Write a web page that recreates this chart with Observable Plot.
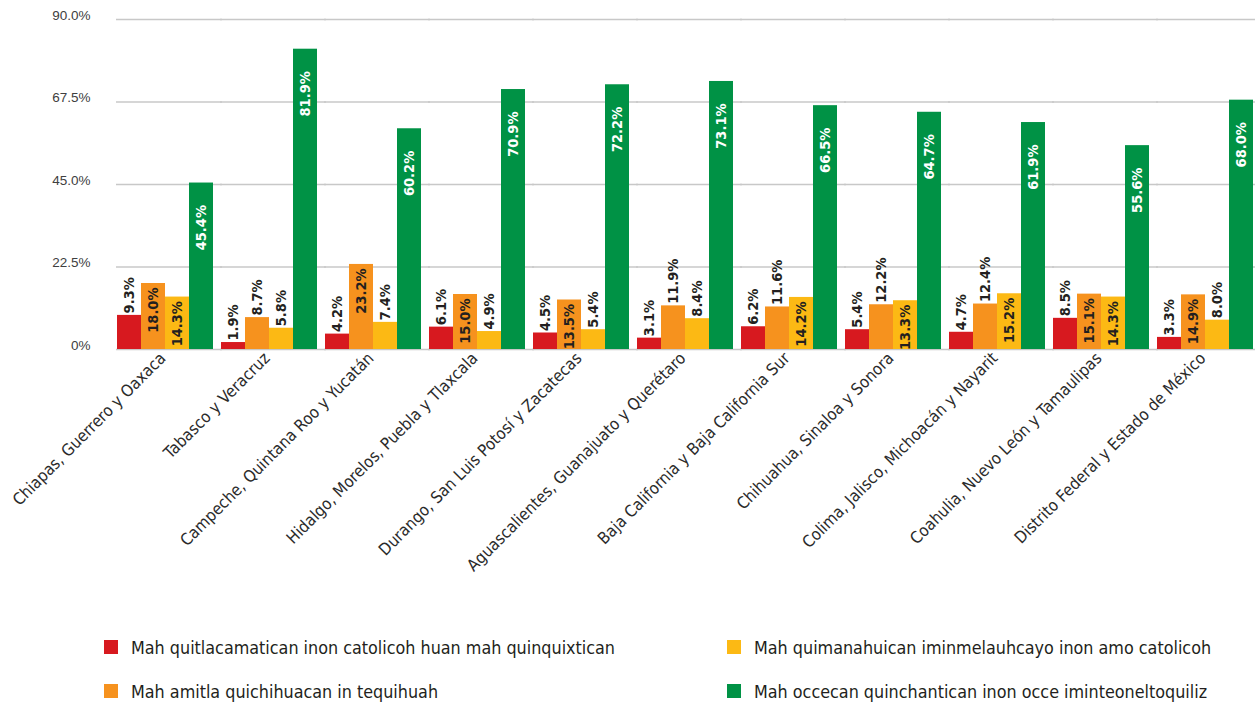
<!DOCTYPE html>
<html><head><meta charset="utf-8">
<script src="https://cdn.jsdelivr.net/npm/d3@7"></script>
<script src="https://cdn.jsdelivr.net/npm/@observablehq/plot@0.6"></script>
<style>
body{margin:0;background:#fff;}
#chart svg{display:block;}
#legend{position:relative;width:1255px;height:79px;font-family:"DejaVu Sans Condensed",sans-serif;font-size:17.8px;color:#231f20;}
.item{position:absolute;display:flex;align-items:center;height:20px;white-space:nowrap;}
.sw{width:14px;height:14px;margin-right:13px;flex:none;}
</style></head><body>
<div id="chart"></div>
<div id="legend"></div>
<script>
const regions = [
  "Chiapas, Guerrero y Oaxaca",
  "Tabasco y Veracruz",
  "Campeche, Quintana Roo y Yucatán",
  "Hidalgo, Morelos, Puebla y Tlaxcala",
  "Durango, San Luis Potosí y Zacatecas",
  "Aguascalientes, Guanajuato y Querétaro",
  "Baja California y Baja California Sur",
  "Chihuahua, Sinaloa y Sonora",
  "Colima, Jalisco, Michoacán y Nayarit",
  "Coahulia, Nuevo León y Tamaulipas",
  "Distrito Federal y Estado de México"
];
const seriesNames = [
  "Mah quitlacamatican inon catolicoh huan mah quinquixtican",
  "Mah amitla quichihuacan in tequihuah",
  "Mah quimanahuican iminmelauhcayo inon amo catolicoh",
  "Mah occecan quinchantican inon occe iminteoneltoquiliz"
];
const colors = ["#d7191f", "#f6921e", "#fcb914", "#009245"];
const redValues = [9.3, 1.9, 4.2, 6.1, 4.5, 3.1, 6.2, 5.4, 4.7, 8.5, 3.3];
const orangeValues = [18.0, 8.7, 23.2, 15.0, 13.5, 11.9, 11.6, 12.2, 12.4, 15.1, 14.9];
const yellowValues = [14.3, 5.8, 7.4, 4.9, 5.4, 8.4, 14.2, 13.3, 15.2, 14.3, 8.0];
const greenValues = [45.4, 81.9, 60.2, 70.9, 72.2, 73.1, 66.5, 64.7, 61.9, 55.6, 68.0];
const yTicks = [0, 22.5, 45, 67.5, 90];
const yTickLabels = ["0%", "22.5%", "45.0%", "67.5%", "90.0%"];

const seriesValues = [redValues, orangeValues, yellowValues, greenValues];
const data = [];
regions.forEach((r, i) => seriesValues.forEach((vals, s) => data.push({region: r, series: seriesNames[s], s, value: vals[i]})));
const fmt = d => d.value.toFixed(1) + "%";
const inside = d => d.s === 3 || d.value >= 13;
const labelFont = `"DejaVu Sans Condensed",sans-serif`;

const chart = Plot.plot({
  width: 1255, height: 625,
  marginLeft: 114, marginRight: 0, marginTop: 19, marginBottom: 276,
  style: {fontFamily: labelFont, background: "#fff", color: "#231f20"},
  fx: {domain: regions, paddingInner: 0.071, paddingOuter: 0, label: null, axis: null},
  x: {domain: seriesNames, padding: 0, axis: null},
  y: {domain: [0, 90], label: null},
  color: {domain: seriesNames, range: colors},
  marks: [
    Plot.ruleY(yTicks, {stroke: "#c8c8c8", strokeWidth: 1.5, insetRight: -9}),
    Plot.axisY({ticks: yTicks, tickFormat: (d, i) => yTickLabels[i], tickSize: 0, tickPadding: 26, dy: -4, fill: "#404040", fontSize: 13.5, fontFamily: "Liberation Sans, sans-serif", label: null}),
    Plot.barY(data, {fx: "region", x: "series", y: "value", fill: "series"}),
    Plot.text(data.filter(d => !inside(d)), {fx: "region", x: "series", y: "value", text: fmt, rotate: -90, textAnchor: "start", dy: -2, fill: "#231f20", fontSize: 14.5, fontWeight: "bold"}),
    Plot.text(data.filter(d => inside(d) && d.s !== 3), {fx: "region", x: "series", y: "value", text: fmt, rotate: -90, textAnchor: "end", dy: 4, fill: "#231f20", fontSize: 14.5, fontWeight: "bold"}),
    Plot.text(data.filter(d => d.s === 3), {fx: "region", x: "series", y: "value", text: fmt, rotate: -90, textAnchor: "end", dy: 22, fill: "#ffffff", fontSize: 14.5, fontWeight: "bold"}),
    Plot.axisFx({anchor: "bottom", tickRotate: -45, tickSize: 0, tickPadding: 6, dx: -2, fontSize: 16.5, label: null, fill: "#2b2b2b"})
  ]
});
document.getElementById("chart").appendChild(chart);

const legend = document.getElementById("legend");
const pos = [[104, 12], [104, 56], [727, 12], [727, 56]];
seriesNames.forEach((name, i) => {
  const it = document.createElement("div");
  it.className = "item";
  it.style.left = pos[i][0] + "px";
  it.style.top = pos[i][1] + "px";
  it.innerHTML = `<span class="sw" style="background:${colors[i]}"></span><span>${name}</span>`;
  legend.appendChild(it);
});
</script>
</body></html>
